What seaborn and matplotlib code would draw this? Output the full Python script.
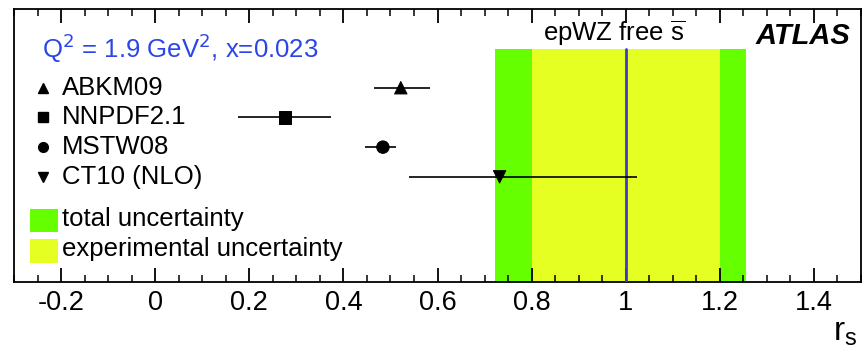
import numpy as np
import pandas as pd
import matplotlib
matplotlib.use("Agg")
import matplotlib.pyplot as plt
import seaborn as sns
from matplotlib.ticker import MultipleLocator
from matplotlib.lines import Line2D
from matplotlib.patches import Rectangle
from matplotlib import font_manager

# ---- data ----
pdf_names = ["ABKM09", "NNPDF2.1", "MSTW08", "CT10 (NLO)"]
pdf_rs = [0.522, 0.276, 0.484, 0.732]
pdf_err_lo = [0.464, 0.176, 0.445, 0.540]
pdf_err_hi = [0.583, 0.374, 0.512, 1.023]
pdf_markers = ["^", "s", "o", "v"]
fit_central = 1.00
total_band = [0.722, 1.256]
exp_band = [0.801, 1.201]
x_range = [-0.3, 1.5]
x_ticks = [-0.2, 0, 0.2, 0.4, 0.6, 0.8, 1, 1.2, 1.4]
x_tick_labels = ["-0.2", "0", "0.2", "0.4", "0.6", "0.8", "1", "1.2", "1.4"]

sns.set_theme(style="ticks")
names = {f.name for f in font_manager.fontManager.ttflist}
main_font = "Liberation Sans" if "Liberation Sans" in names else "DejaVu Sans"
FONT = [main_font, "DejaVu Sans"]

GREEN = "#66ff00"
YELLOW = "#e6ff22"
BLUE_TXT = "#2a45e8"
FS = 18.5

fig = plt.figure(figsize=(8.67, 3.55), dpi=100)
ax = fig.add_axes([14 / 867, 1 - 282 / 355, (861 - 14) / 867, (282 - 9) / 355])

rows = np.arange(len(pdf_names))
ymin_lim, ymax_lim = 6.54, -2.65
band_top = -1.30

# bands
ax.fill_betweenx([band_top, ymin_lim], total_band[0], total_band[1], color=GREEN, lw=0, zorder=1)
ax.fill_betweenx([band_top, ymin_lim], exp_band[0], exp_band[1], color=YELLOW, lw=0, zorder=2)
ax.plot([fit_central, fit_central], [band_top, ymin_lim], color="#3a3ad0", lw=2, zorder=3)

# error bars
ax.hlines(rows, pdf_err_lo, pdf_err_hi, color="black", lw=1.2, zorder=4)

df = pd.DataFrame({"rs": pdf_rs, "row": rows, "pdf": pdf_names})
sns.scatterplot(data=df, x="rs", y="row", style="pdf", markers=dict(zip(pdf_names, pdf_markers)),
                color="black", s=80, edgecolor="black", legend=False, ax=ax, zorder=5)

ax.set_xlim(*x_range)
ax.set_ylim(ymin_lim, ymax_lim)
ax.set_xlabel("")
ax.set_ylabel("")
ax.set_yticks([])
ax.set_xticks(x_ticks)
ax.set_xticklabels(x_tick_labels)
for lab in ax.get_xticklabels():
    lab.set_fontsize(19.5)
    lab.set_family(FONT)
    lab.set_color("black")
ax.xaxis.set_minor_locator(MultipleLocator(0.05))
ax.set_axisbelow(False)
ax.tick_params(axis="x", which="major", direction="in", length=10, width=1.3,
               colors="black", top=True, bottom=True, pad=6)
ax.tick_params(axis="x", which="minor", direction="in", length=5, width=1.1,
               colors="black", top=True, bottom=True)
for sp in ax.spines.values():
    sp.set_visible(True)
    sp.set_color("black")
    sp.set_linewidth(1.3)

# texts and legend (figure level)
def ftext(x, y, s, **kw):
    kw.setdefault("fontsize", FS)
    kw.setdefault("va", "center")
    kw.setdefault("ha", "left")
    fig.text(x / 867, 1 - y / 355, s, family=FONT, **kw)

ftext(42, 48, r"Q$^2$ = 1.9 GeV$^2$, x=0.023", color=BLUE_TXT)
leg_y = [88, 117, 147, 177]
for name, mk, yy in zip(pdf_names, pdf_markers, leg_y):
    fig.add_artist(Line2D([43 / 867], [1 - yy / 355], marker=mk, color="black", ms=7,
                          ls="none", transform=fig.transFigure))
    ftext(62, yy, name, color="black")

fig.add_artist(Rectangle((30 / 867, 1 - 232 / 355), 28 / 867, 23 / 355, facecolor=GREEN,
                         transform=fig.transFigure, lw=0))
fig.add_artist(Rectangle((30 / 867, 1 - 263 / 355), 28 / 867, 24 / 355, facecolor=YELLOW,
                         transform=fig.transFigure, lw=0))
ftext(62, 219, "total uncertainty", color="black")
ftext(62, 249, "experimental uncertainty", color="black")
ftext(614, 33, r"epWZ free $\overline{\mathregular{s}}$", ha="center", color="black")
ftext(850, 36, "ATLAS", fontsize=21, fontweight="bold", fontstyle="italic", ha="right", color="black")
ftext(845, 333, r"r$_\mathregular{s}$", fontsize=24, ha="center", color="black")

fig.savefig("out.png", dpi=100)
